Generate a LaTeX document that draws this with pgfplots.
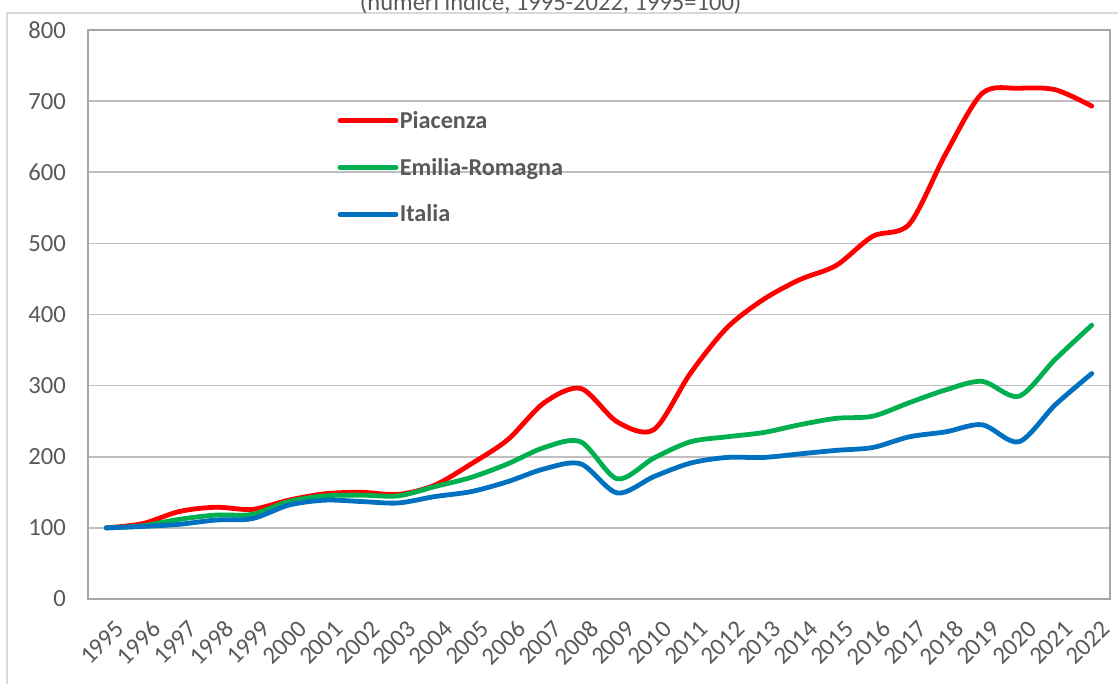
\documentclass[border=0pt]{standalone}
\usepackage{pgfplots}
\pgfplotsset{compat=1.18}
\usepackage{fontspec}
\setmainfont{Carlito}
\definecolor{cred}{HTML}{FF0000}
\definecolor{cgreen}{HTML}{00B050}
\definecolor{cblue}{HTML}{0070C0}
\definecolor{tgray}{HTML}{595959}
\definecolor{grid}{HTML}{D9D9D9}
\definecolor{boxg}{HTML}{A6A6A6}
\begin{document}
\begin{tikzpicture}
\useasboundingbox (0,0) rectangle (838.5pt,513pt);
\draw[grid, line width=1.2pt] (5.25pt,-5pt) -- (5.25pt,503.25pt) -- (845pt,503.25pt);
\node[anchor=base, font=\fontsize{18.4}{20}\selectfont, text=tgray] at (413pt,505pt) {(numeri indice, 1995-2022, 1995=100)};
\begin{axis}[
  at={(66pt,63.75pt)}, anchor=south west,
  scale only axis, width=766.5pt, height=426.75pt,
  xmin=1994.5, xmax=2022.5, ymin=0, ymax=800,
  xtick={1995,...,2022}, ytick={0,100,...,800},
  tick style={draw=none}, major tick length=0pt,
  xmajorgrids=false, ymajorgrids=true,
  /pgf/number format/assume math mode=true,
  xticklabel style={/pgf/number format/1000 sep=, rotate=45, anchor=east, xshift=-3pt, yshift=-21pt},
  yticklabel style={xshift=-13pt},
  ticklabel style={font=\fontsize{18.5}{20}\selectfont, text=tgray},
  grid style={grid, line width=1.2pt},
  axis line style={boxg, line width=0.9pt},
  legend style={at={(0.244,0.86)}, anchor=north west, draw=none, fill=none,
    font=\fontsize{18.2}{20}\selectfont\bfseries, text=tgray, row sep=18.8pt, inner sep=0pt,
    nodes={inner sep=1pt}},
  legend cell align=left,
  legend image code/.code={\draw[#1, line cap=round] (0pt,0pt) -- (42pt,0pt);},
]
\addplot[cred, line width=3.6pt, smooth, tension=0.5, line cap=round] coordinates {
(1995,100)(1996,106)(1997,123)(1998,129)(1999,126)(2000,139)(2001,148)(2002,150)(2003,147)(2004,160)
(2005,190)(2006,224)(2007,276)(2008,296)(2009,249)(2010,238)(2011,317)(2012,381)(2013,421)(2014,449)
(2015,469)(2016,510)(2017,527)(2018,626)(2019,711)(2020,718)(2021,716)(2022,693)};
\addlegendentry{Piacenza}
\addplot[cgreen, line width=3.6pt, smooth, tension=0.5, line cap=round] coordinates {
(1995,100)(1996,103)(1997,112)(1998,118)(1999,119)(2000,137)(2001,145)(2002,146)(2003,145)(2004,158)
(2005,171)(2006,190)(2007,213)(2008,221)(2009,169)(2010,198)(2011,221)(2012,228)(2013,234)(2014,245)
(2015,254)(2016,257)(2017,276)(2018,294)(2019,306)(2020,285)(2021,337)(2022,385)};
\addlegendentry{Emilia-Romagna}
\addplot[cblue, line width=3.6pt, smooth, tension=0.5, line cap=round] coordinates {
(1995,100)(1996,102)(1997,105)(1998,111)(1999,113)(2000,132)(2001,139)(2002,137)(2003,135)(2004,144)
(2005,151)(2006,165)(2007,183)(2008,190)(2009,149)(2010,172)(2011,191)(2012,199)(2013,199)(2014,204)
(2015,209)(2016,213)(2017,228)(2018,235)(2019,245)(2020,221)(2021,273)(2022,317)};
\addlegendentry{Italia}
\end{axis}
\end{tikzpicture}
\end{document}
